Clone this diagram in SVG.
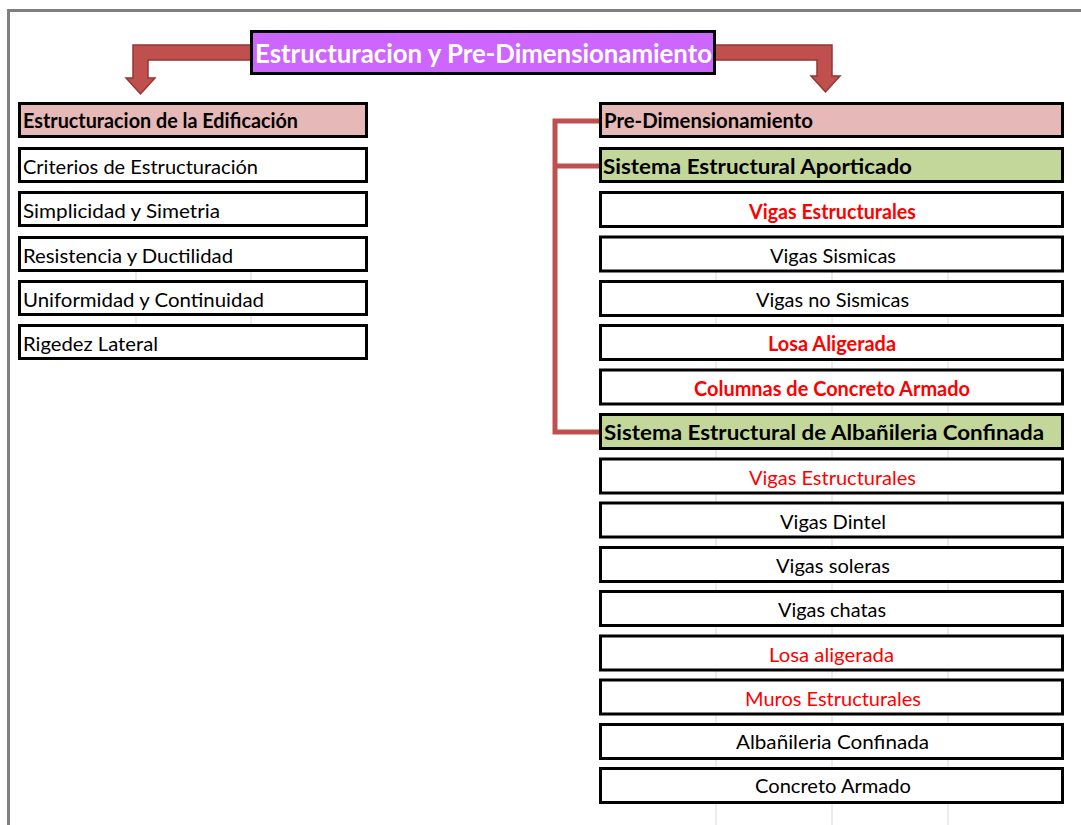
<svg xmlns="http://www.w3.org/2000/svg" width="1081" height="825" viewBox="0 0 1081 825">
<style>
.box{fill:#FFFFFF;stroke:#000;stroke-width:3}
.pink{fill:#E6B8B7;stroke:#000;stroke-width:3}
.green{fill:#C4D79B;stroke:#000;stroke-width:3}
.shadow{fill:none;stroke:#BFBFBF;stroke-width:1}
text{font-family:Lato,"Open Sans","Liberation Sans",sans-serif;font-size:20px;fill:#000}
.b{font-weight:bold}
.c{text-anchor:middle}
.red{fill:#FF0000}
.title{font-size:27px;font-weight:bold;fill:#FFFFFF}
.grid{stroke:#D9D9D9;stroke-width:1}
.arrow{fill:#C0504D;stroke:#943634;stroke-width:1.5;stroke-linejoin:miter}
.bracket{fill:none;stroke:#C0504D;stroke-width:5}
</style>

<rect x="0" y="0" width="1081" height="825" fill="#FFFFFF"/>
<g id="frame">
<path d="M8.5,825 V10.5 H1081" fill="none" stroke="#7F7F7F" stroke-width="3"/>
</g>

<g id="gridlines">
<line class="grid" x1="136" y1="272" x2="136" y2="325"/>
<line class="grid" x1="251" y1="272" x2="251" y2="325"/>
<line class="grid" x1="716" y1="272" x2="716" y2="825"/>
<line class="grid" x1="832" y1="272" x2="832" y2="825"/>
<line class="grid" x1="948" y1="272" x2="948" y2="825"/>
</g>

<g id="connectors">
<path class="arrow" d="M252,45 L133,45 L133,78 L126,78 L140.5,94 L155,78 L148,78 L148,60 L252,60 Z"/>
<path class="arrow" d="M714,45 L832,45 L832,76 L840,76 L825.5,92 L811,76 L817,76 L817,60 L714,60 Z"/>
<path class="bracket" d="M599,121 H555 V432 H599"/>
<path class="bracket" d="M555,166 H599"/>
</g>

<g id="title">
<rect x="251.5" y="31.5" width="463" height="42" fill="#CC66FF" stroke="#000" stroke-width="3"/>
<text class="title" x="255" y="63" textLength="457" lengthAdjust="spacingAndGlyphs">Estructuracion y Pre-Dimensionamiento</text>
</g>

<!-- Left column -->
<g id="estructuracion-edificacion">
<rect class="pink" x="19.5" y="103.5" width="347" height="33"/>
<text class="b" x="23" y="128" textLength="275" lengthAdjust="spacingAndGlyphs">Estructuracion de la Edificación</text>
</g>
<g id="criterios">
<rect class="box" x="19.5" y="148.5" width="347" height="33"/>
<text x="23" y="174" textLength="235" lengthAdjust="spacingAndGlyphs">Criterios de Estructuración</text>
</g>
<g id="simplicidad">
<rect class="box" x="19.5" y="192.5" width="347" height="33"/>
<text x="23" y="218" textLength="197" lengthAdjust="spacingAndGlyphs">Simplicidad y Simetria</text>
</g>
<g id="resistencia">
<rect class="box" x="19.5" y="237.5" width="347" height="33"/>
<text x="23" y="263" textLength="210" lengthAdjust="spacingAndGlyphs">Resistencia y Ductilidad</text>
</g>
<g id="uniformidad">
<rect class="box" x="19.5" y="281.5" width="347" height="33"/>
<text x="23" y="307" textLength="241" lengthAdjust="spacingAndGlyphs">Uniformidad y Continuidad</text>
</g>
<g id="rigedez">
<rect class="box" x="19.5" y="325.5" width="347" height="33"/>
<text x="23" y="351" textLength="135" lengthAdjust="spacingAndGlyphs">Rigedez Lateral</text>
</g>

<!-- Right column -->
<g id="pre-dimensionamiento">
<rect class="pink" x="600.5" y="103.5" width="462" height="33"/>
<text class="b" x="604" y="128" textLength="209" lengthAdjust="spacingAndGlyphs">Pre-Dimensionamiento</text>
</g>
<g id="sistema-aporticado">
<rect class="green" x="600.5" y="148.5" width="462" height="33"/>
<text class="b" x="603" y="174" textLength="309" lengthAdjust="spacingAndGlyphs" style="font-size:21px">Sistema Estructural Aporticado</text>
</g>
<g id="vigas-estructurales-1">
<rect class="box" x="600.5" y="192.5" width="462" height="34"/>
<text class="b red" x="749" y="219" textLength="167" lengthAdjust="spacingAndGlyphs">Vigas Estructurales</text>
</g>
<g id="vigas-sismicas">
<rect class="box" x="600.5" y="237" width="462" height="34"/>
<text x="770" y="263" textLength="126" lengthAdjust="spacingAndGlyphs">Vigas Sismicas</text>
</g>
<g id="vigas-no-sismicas">
<rect class="box" x="600.5" y="281.5" width="462" height="34"/>
<text x="756" y="307" textLength="153" lengthAdjust="spacingAndGlyphs">Vigas no Sismicas</text>
</g>
<g id="losa-aligerada-1">
<rect class="box" x="600.5" y="325.5" width="462" height="34"/>
<text class="b red" x="768" y="351" textLength="128" lengthAdjust="spacingAndGlyphs">Losa Aligerada</text>
</g>
<g id="columnas">
<rect class="box" x="600.5" y="370" width="462" height="34"/>
<text class="b red" x="694" y="396" textLength="276" lengthAdjust="spacingAndGlyphs">Columnas de Concreto Armado</text>
</g>
<g id="sistema-albanileria">
<rect class="green" x="600.5" y="414.5" width="462" height="34"/>
<text class="b" x="604" y="440" textLength="440" lengthAdjust="spacingAndGlyphs" style="font-size:21px">Sistema Estructural de Albañileria Confinada</text>
</g>
<g id="vigas-estructurales-2">
<rect class="box" x="600.5" y="459" width="462" height="34"/>
<text class="red" x="749" y="485" textLength="167" lengthAdjust="spacingAndGlyphs">Vigas Estructurales</text>
</g>
<g id="vigas-dintel">
<rect class="box" x="600.5" y="503" width="462" height="34"/>
<text x="780" y="529" textLength="106" lengthAdjust="spacingAndGlyphs">Vigas Dintel</text>
</g>
<g id="vigas-soleras">
<rect class="box" x="600.5" y="547.5" width="462" height="34"/>
<text x="776" y="573" textLength="114" lengthAdjust="spacingAndGlyphs">Vigas soleras</text>
</g>
<g id="vigas-chatas">
<rect class="box" x="600.5" y="591.5" width="462" height="34"/>
<text x="778" y="617" textLength="108" lengthAdjust="spacingAndGlyphs">Vigas chatas</text>
</g>
<g id="losa-aligerada-2">
<rect class="box" x="600.5" y="636" width="462" height="34"/>
<text class="red" x="769" y="662" textLength="125" lengthAdjust="spacingAndGlyphs">Losa aligerada</text>
</g>
<g id="muros">
<rect class="box" x="600.5" y="680" width="462" height="34"/>
<text class="red" x="745" y="706" textLength="176" lengthAdjust="spacingAndGlyphs">Muros Estructurales</text>
</g>
<g id="albanileria-confinada">
<rect class="box" x="600.5" y="724.5" width="462" height="34"/>
<text x="736" y="749" textLength="193" lengthAdjust="spacingAndGlyphs">Albañileria Confinada</text>
</g>
<g id="concreto-armado">
<rect class="box" x="600.5" y="768.5" width="462" height="34"/>
<text x="755" y="793" textLength="156" lengthAdjust="spacingAndGlyphs">Concreto Armado</text>
</g>
</svg>
